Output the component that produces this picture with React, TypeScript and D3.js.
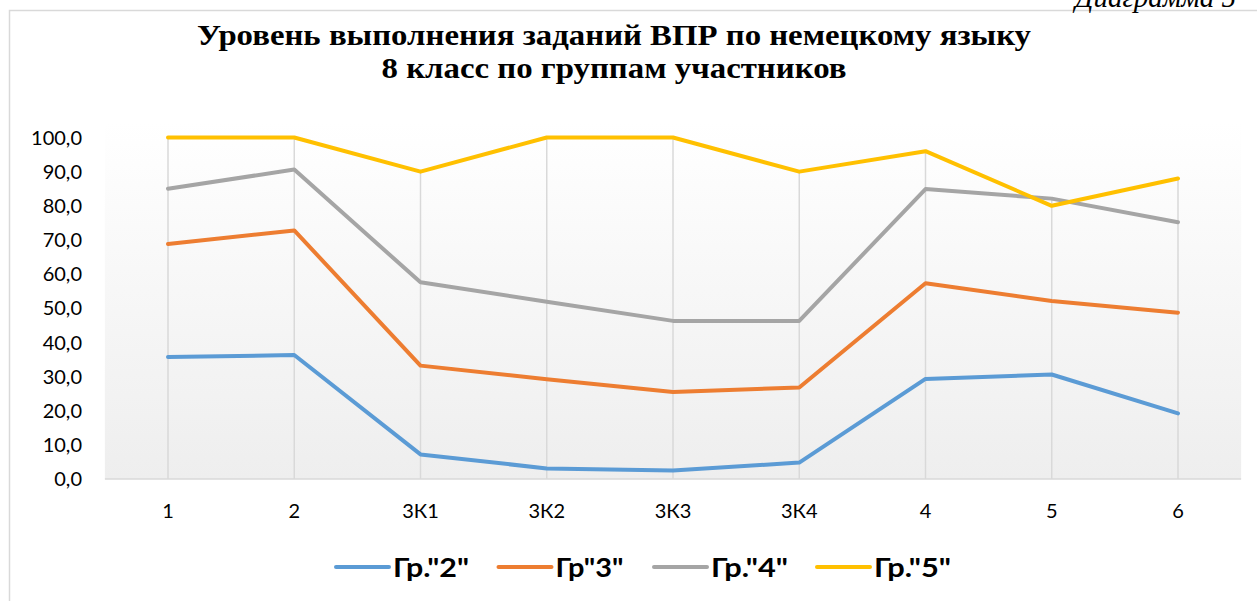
import React from "react";
import * as d3 from "d3";

const categories = ["1", "2", "3К1", "3К2", "3К3", "3К4", "4", "5", "6"];
const seriesNames = ['Гр."2"', 'Гр"3"', 'Гр."4"', 'Гр."5"'];
const gr2 = [35.7, 36.3, 7.2, 3.1, 2.5, 4.8, 29.3, 30.6, 19.2];
const gr3 = [68.8, 72.8, 33.2, 29.2, 25.5, 26.8, 57.3, 52.1, 48.7];
const gr4 = [85.0, 90.6, 57.6, 51.9, 46.3, 46.3, 84.9, 82.1, 75.2];
const gr5 = [100, 100, 90, 100, 100, 90, 96, 80, 88];
const yTicks = [0, 10, 20, 30, 40, 50, 60, 70, 80, 90, 100];
const colors = ["#5b9bd5", "#ed7d31", "#a5a5a5", "#ffc000"];
const titleLines = ["Уровень выполнения заданий ВПР по немецкому языку", "8 класс по группам участников"];
const caption = "Диаграмма 5";

export default function App() {
  const W = 1257, H = 601;
  const allSeries = [gr2, gr3, gr4, gr5];
  const x = d3.scalePoint<string>().domain(categories).range([168, 1178]);
  const y = d3.scaleLinear().domain([0, 100]).range([479, 137.5]);
  const step = x.step();
  const plotLeft = (x(categories[0]) as number) - step / 2;
  const plotRight = (x(categories[categories.length - 1]) as number) + step / 2;
  const plotTop = 122;
  const line = d3
    .line<number>()
    .x((_, i) => x(categories[i]) as number)
    .y((d) => y(d));
  const maxes = categories.map((_, i) => d3.max(allSeries, (s) => s[i]) as number);
  const fmt = (v: number) => v.toFixed(1).replace(".", ",");
  const legendLineX = [336, 498.5, 654, 817];
  const legendTextW = [76, 68, 77, 77];
  const titleW = [834, 465];

  return (
    <svg
      width={W}
      height={H}
      style={{ position: "absolute", left: 0, top: 0, background: "#fff" }}
    >
      <defs>
        <linearGradient id="bg" x1="0" y1="0" x2="0" y2="1">
          <stop offset="0" stopColor="#ffffff" />
          <stop offset="1" stopColor="#eeeeee" />
        </linearGradient>
      </defs>
      <rect x={9.5} y={10.5} width={W + 10} height={H + 10} fill="#fff" stroke="#d9d9d9" strokeWidth={1.5} />
      <text
        x={1075}
        y={7}
        fontFamily="Liberation Serif, serif"
        fontStyle="italic"
        fontSize={29}
        fill="#000"
      >
        {caption}
      </text>
      {titleLines.map((t, i) => (
        <text
          key={i}
          x={614}
          y={45 + i * 33}
          textAnchor="middle"
          fontFamily="Liberation Serif, serif"
          fontWeight="bold"
          fontSize={30}
          textLength={titleW[i]}
          lengthAdjust="spacingAndGlyphs"
          fill="#000"
        >
          {t}
        </text>
      ))}
      <rect x={plotLeft} y={plotTop} width={plotRight - plotLeft} height={y(0) - plotTop} fill="url(#bg)" />
      {categories.map((c, i) => (
        <line
          key={c}
          x1={x(c)}
          x2={x(c)}
          y1={y(maxes[i])}
          y2={y(0)}
          stroke="#d9d9d9"
          strokeWidth={1.5}
        />
      ))}
      <line x1={plotLeft} x2={plotRight} y1={y(0)} y2={y(0)} stroke="#d9d9d9" strokeWidth={1.5} />
      {yTicks.map((t) => (
        <text
          key={t}
          x={82}
          y={y(t)}
          dy="0.36em"
          textAnchor="end"
          fontFamily="Lato, sans-serif"
          fontSize={20}
          fill="#000"
        >
          {fmt(t)}
        </text>
      ))}
      {categories.map((c) => (
        <text
          key={c}
          x={x(c)}
          y={518}
          textAnchor="middle"
          fontFamily="Lato, sans-serif"
          fontSize={20}
          fill="#000"
        >
          {c}
        </text>
      ))}
      {allSeries.map((s, k) => (
        <path
          key={k}
          d={line(s) || ""}
          fill="none"
          stroke={colors[k]}
          strokeWidth={4}
          strokeLinejoin="round"
          strokeLinecap="round"
        />
      ))}
      {seriesNames.map((n, k) => (
        <g key={n}>
          <line
            x1={legendLineX[k]}
            x2={legendLineX[k] + 53}
            y1={567}
            y2={567}
            stroke={colors[k]}
            strokeWidth={4}
            strokeLinecap="round"
          />
          <text
            x={legendLineX[k] + 57}
            y={567}
            dy="0.36em"
            fontFamily="Lato, sans-serif"
            fontWeight="bold"
            fontSize={27}
            textLength={legendTextW[k]}
            lengthAdjust="spacingAndGlyphs"
            fill="#000"
          >
            {n}
          </text>
        </g>
      ))}
    </svg>
  );
}
